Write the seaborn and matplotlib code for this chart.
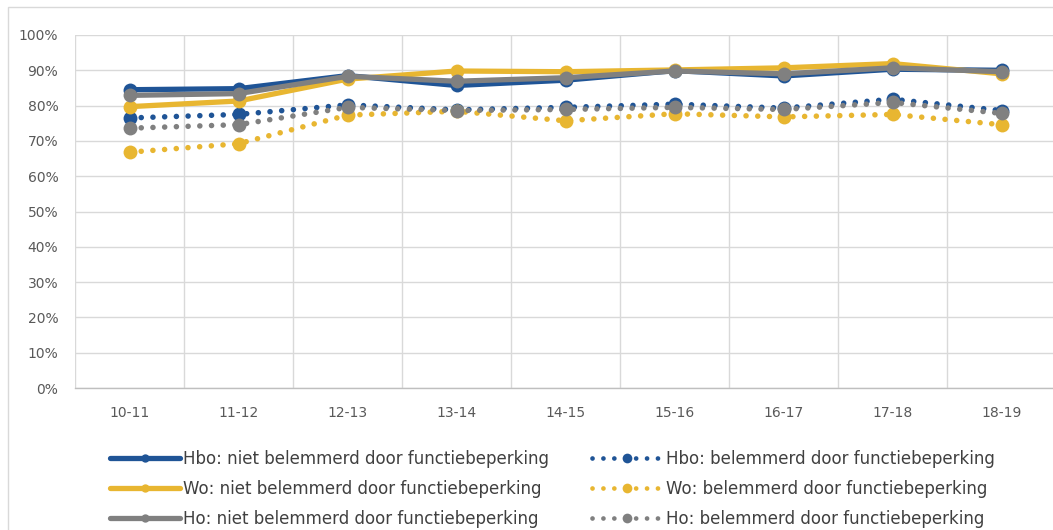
import numpy as np
import pandas as pd
import matplotlib
matplotlib.use("Agg")
import matplotlib.pyplot as plt
import seaborn as sns
from matplotlib.lines import Line2D
from matplotlib.patches import Rectangle
from matplotlib.ticker import FuncFormatter

# Data (share in %)
years = ['10-11', '11-12', '12-13', '13-14', '14-15', '15-16', '16-17', '17-18', '18-19']
hbo_niet = [84.5, 84.8, 88.5, 85.7, 87.2, 89.9, 88.4, 90.3, 90.0]
hbo_bel = [76.5, 77.5, 80.2, 78.8, 79.5, 80.4, 79.3, 81.8, 78.6]
wo_niet = [79.7, 81.3, 87.5, 89.8, 89.6, 90.1, 90.7, 91.9, 89.0]
wo_bel = [66.8, 69.2, 77.3, 78.4, 75.7, 77.7, 76.8, 77.5, 74.6]
ho_niet = [82.9, 83.4, 88.3, 86.9, 87.9, 89.8, 89.0, 90.7, 89.6]
ho_bel = [73.6, 74.6, 79.5, 78.6, 78.9, 79.5, 78.9, 80.9, 77.8]

labels = [
    "Hbo: niet belemmerd door functiebeperking",
    "Hbo: belemmerd door functiebeperking",
    "Wo: niet belemmerd door functiebeperking",
    "Wo: belemmerd door functiebeperking",
    "Ho: niet belemmerd door functiebeperking",
    "Ho: belemmerd door functiebeperking",
]
series = [hbo_niet, hbo_bel, wo_niet, wo_bel, ho_niet, ho_bel]

blue = "#1F5496"
yellow = "#E8B631"
gray = "#808080"
colors = [blue, blue, yellow, yellow, gray, gray]
dotted = [False, True, False, True, False, True]

sns.set_style("white")
plt.rcParams['font.family'] = ['DejaVu Sans']

fig = plt.figure(figsize=(10.53, 5.30), dpi=100)
ax = fig.add_axes([75 / 1053, 1 - 388 / 530, 981 / 1053, 353 / 530])

dot_style = (0, (0.01, 2.1))
for vals, lab, col, dot in zip(series, labels, colors, dotted):
    df = pd.DataFrame({"year": years, "value": vals})
    if dot:
        sns.lineplot(data=df, x="year", y="value", ax=ax, color=col, sort=False,
                     linewidth=4.0, linestyle=dot_style, dash_capstyle="round",
                     marker="o", markersize=10, markeredgewidth=0)
    else:
        sns.lineplot(data=df, x="year", y="value", ax=ax, color=col, sort=False,
                     linewidth=3.8, solid_capstyle="round",
                     marker="o", markersize=10, markeredgewidth=0)

ax.set_xlim(-0.5, len(years) - 0.5)
ax.set_ylim(0, 100)
ax.set_yticks(np.arange(0, 101, 10))
ax.yaxis.set_major_formatter(FuncFormatter(lambda v, p: f"{int(v)}%"))
ax.set_xticks(range(len(years)))
ax.set_xticklabels(years)
ax.set_xticks(np.arange(-0.5, len(years), 1), minor=True)
ax.set_xlabel("")
ax.set_ylabel("")

ax.grid(axis="y", which="major", color="#D9D9D9", linewidth=1.0)
ax.grid(axis="x", which="minor", color="#D9D9D9", linewidth=1.0)
ax.set_axisbelow(True)
for side in ["top", "right", "left"]:
    ax.spines[side].set_visible(False)
ax.spines["bottom"].set_color("#BFBFBF")
ax.spines["bottom"].set_linewidth(1.0)
ax.tick_params(axis="both", which="both", length=0, labelsize=10, labelcolor="#595959")
ax.tick_params(axis="x", pad=13)
ax.tick_params(axis="y", pad=12)

# Legend
handles = []
for col, dot in zip(colors, dotted):
    if dot:
        handles.append(Line2D([0], [0], color=col, linewidth=3.4, linestyle=(0, (0.01, 2.3)),
                              dash_capstyle="round", marker="o", markersize=7, markeredgewidth=0))
    else:
        handles.append(Line2D([0], [0], color=col, linewidth=3.8, solid_capstyle="round",
                              marker="o", markersize=6, markeredgewidth=0))
order = [0, 2, 4, 1, 3, 5]
leg = fig.legend([handles[i] for i in order], [labels[i] for i in order], ncol=2,
                 loc="upper left", bbox_to_anchor=(103 / 1053, 1 - 443 / 530),
                 frameon=False, fontsize=12, handlelength=4.2, handletextpad=0.2,
                 columnspacing=2.6, labelspacing=0.72, borderaxespad=0)
for t in leg.get_texts():
    t.set_color("#404040")

# Outer chart frame
fig.add_artist(Rectangle((8 / 1053, -0.05), 1.1, 1 - 7 / 530 + 0.05, transform=fig.transFigure,
                         fill=False, edgecolor="#D9D9D9", linewidth=1.0))

fig.savefig("out.png", dpi=100)
